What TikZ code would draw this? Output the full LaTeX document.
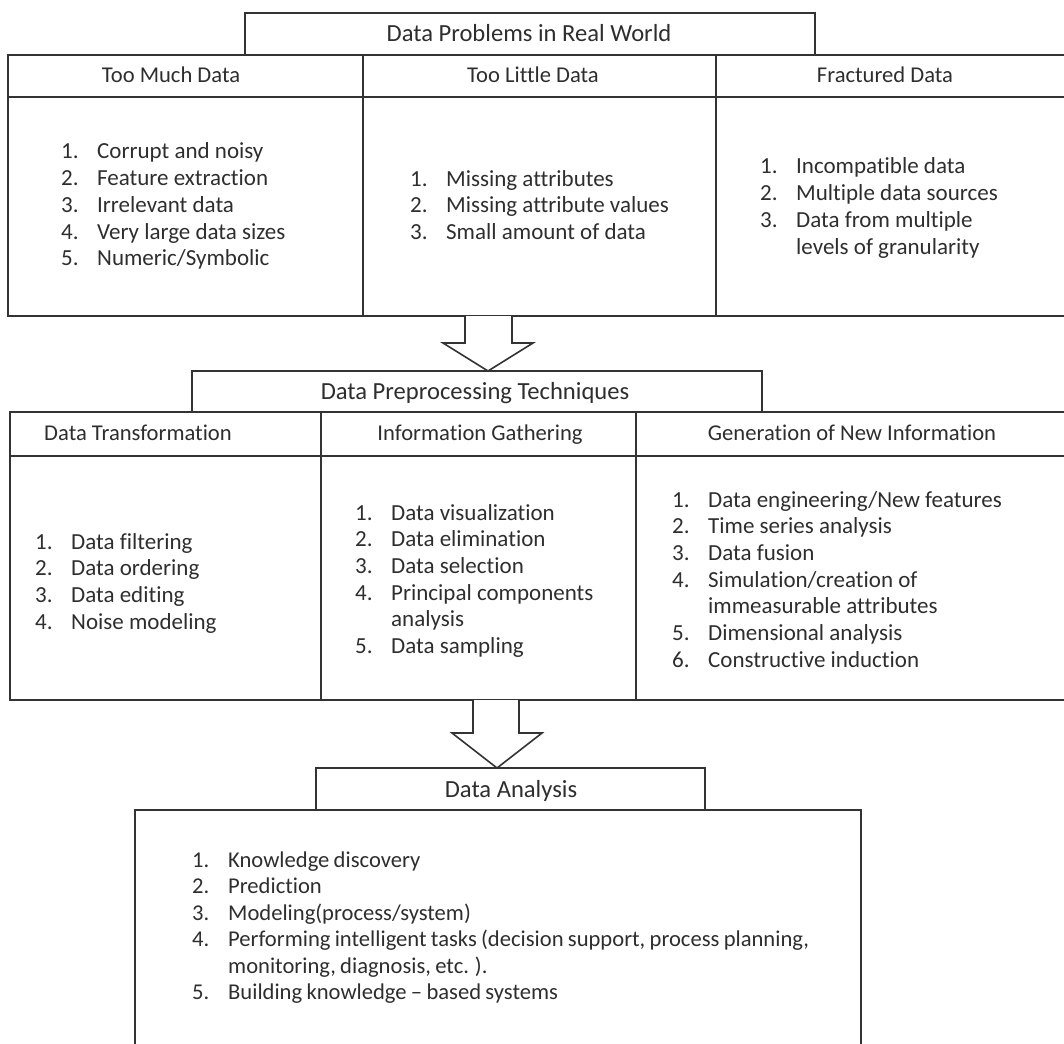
\documentclass[tikz,border=0pt]{standalone}
\usepackage{fontspec}
\setmainfont{Carlito}[Ligatures={NoCommon}]
\definecolor{ink}{HTML}{333333}
\definecolor{txt}{HTML}{2E2E2E}
\newcommand\itm[2]{\makebox[36pt][l]{#1}#2}
\newcommand\cont[1]{\hspace*{36pt}#1}
\newcommand\tightsp{\spaceskip=0.19em plus 0.05em\relax}
\begin{document}
\begin{tikzpicture}[x=1pt,y=-1pt,
  frame/.style={draw=ink,line width=1.6pt},
  lbl/.style={inner sep=0pt,text=txt},
  row/.style={lbl,anchor=base west,font=\fontsize{23}{27}\selectfont},
  tightrow/.style={lbl,anchor=base west,font=\fontsize{22.6}{27}\selectfont\tightsp},
  head/.style={lbl,anchor=base,font=\fontsize{22.6}{27}\selectfont},
  ttl/.style={lbl,anchor=base,font=\fontsize{24.6}{29}\selectfont},
  arrowshape/.style={draw=ink,line width=1.6pt,fill=white,line join=miter}]
\useasboundingbox (0,0) rectangle (1064,1043);
\clip (0,0) rectangle (1064,1043);

% ---------- Data problems ----------
\draw[frame] (245,55) -- (245,13) -- (815,13) -- (815,55);
\draw[frame] (8,55) rectangle (1080,316);
\draw[frame] (8,97) -- (1080,97);
\draw[frame] (363,55) -- (363,316);
\draw[frame] (716,55) -- (716,316);
\node[ttl] (t1) at (529,42) {Data Problems in Real World};
\node[head] (h11) at (171,83) {Too Much Data};
\node[head] (h12) at (533,83) {Too Little Data};
\node[head] (h13) at (885,83) {Fractured Data};

\node[row] (a1) at (61,159) {\itm{1.}{Corrupt and noisy}};
\node[row] (a2) at (61,185.7) {\itm{2.}{Feature extraction}};
\node[row] (a3) at (61,212.4) {\itm{3.}{Irrelevant data}};
\node[row] (a4) at (61,239.1) {\itm{4.}{Very large data sizes}};
\node[row] (a5) at (61,265.8) {\itm{5.}{Numeric/Symbolic}};

\node[row] (b1) at (410,186) {\itm{1.}{Missing attributes}};
\node[row] (b2) at (410,212.7) {\itm{2.}{Missing attribute values}};
\node[row] (b3) at (410,239.4) {\itm{3.}{Small amount of data}};

\node[row] (c1) at (760,174) {\itm{1.}{Incompatible data}};
\node[row] (c2) at (760,200.7) {\itm{2.}{Multiple data sources}};
\node[row] (c3) at (760,227.4) {\itm{3.}{Data from multiple}};
\node[row] (c4) at (760,254.1) {\cont{levels of granularity}};

% ---------- arrow 1 ----------
\draw[arrowshape] (465,316) -- (465,343) -- (443,343) -- (488,371)
  -- (533,343) -- (512,343) -- (512,316);

% ---------- Data preprocessing ----------
\draw[frame] (192,412) -- (192,371) -- (762,371) -- (762,412);
\draw[frame] (10,412) rectangle (1080,700);
\draw[frame] (10,456) -- (1080,456);
\draw[frame] (321,412) -- (321,700);
\draw[frame] (636,412) -- (636,700);
\node[ttl] (t2) at (475,399) {Data Preprocessing Techniques};
\node[head] (h21) at (138,440) {Data Transformation};
\node[head] (h22) at (480,440) {Information Gathering};
\node[head] (h23) at (852,440) {Generation of New Information};

\node[row] (d1) at (35,549) {\itm{1.}{Data filtering}};
\node[row] (d2) at (35,575.7) {\itm{2.}{Data ordering}};
\node[row] (d3) at (35,602.4) {\itm{3.}{Data editing}};
\node[row] (d4) at (35,629.1) {\itm{4.}{Noise modeling}};

\node[row] (e1) at (355,520) {\itm{1.}{Data visualization}};
\node[row] (e2) at (355,546.7) {\itm{2.}{Data elimination}};
\node[row] (e3) at (355,573.4) {\itm{3.}{Data selection}};
\node[row] (e4) at (355,600.1) {\itm{4.}{Principal components}};
\node[row] (e5) at (355,626.8) {\cont{analysis}};
\node[row] (e6) at (355,653.5) {\itm{5.}{Data sampling}};

\node[row] (f1) at (672,507) {\itm{1.}{Data engineering/New features}};
\node[row] (f2) at (672,533.7) {\itm{2.}{Time series analysis}};
\node[row] (f3) at (672,560.4) {\itm{3.}{Data fusion}};
\node[row] (f4) at (672,587.1) {\itm{4.}{Simulation/creation of}};
\node[row] (f5) at (672,613.8) {\cont{immeasurable attributes}};
\node[row] (f6) at (672,640.5) {\itm{5.}{Dimensional analysis}};
\node[row] (f7) at (672,667.2) {\itm{6.}{Constructive induction}};

% ---------- arrow 2 ----------
\draw[arrowshape] (473,700) -- (473,733) -- (452,733) -- (497,768)
  -- (542,733) -- (519,733) -- (519,700);

% ---------- Data analysis (frame runs past the lower edge) ----------
\draw[frame] (316,810) -- (316,768) -- (705,768) -- (705,810);
\draw[frame] (135,810) rectangle (861,1060);
\node[ttl] (t3) at (511,797) {Data Analysis};

\node[tightrow] (g1) at (192,867) {\itm{1.}{Knowledge discovery}};
\node[tightrow] (g2) at (192,893.5) {\itm{2.}{Prediction}};
\node[tightrow] (g3) at (192,920) {\itm{3.}{Modeling(process/system)}};
\node[tightrow] (g4) at (192,946.5) {\itm{4.}{Performing intelligent tasks (decision support, process planning,}};
\node[tightrow] (g5) at (192,973) {\cont{monitoring, diagnosis, etc. ).}};
\node[tightrow] (g6) at (192,999.5) {\itm{5.}{Building knowledge -- based systems}};
\end{tikzpicture}
\end{document}
